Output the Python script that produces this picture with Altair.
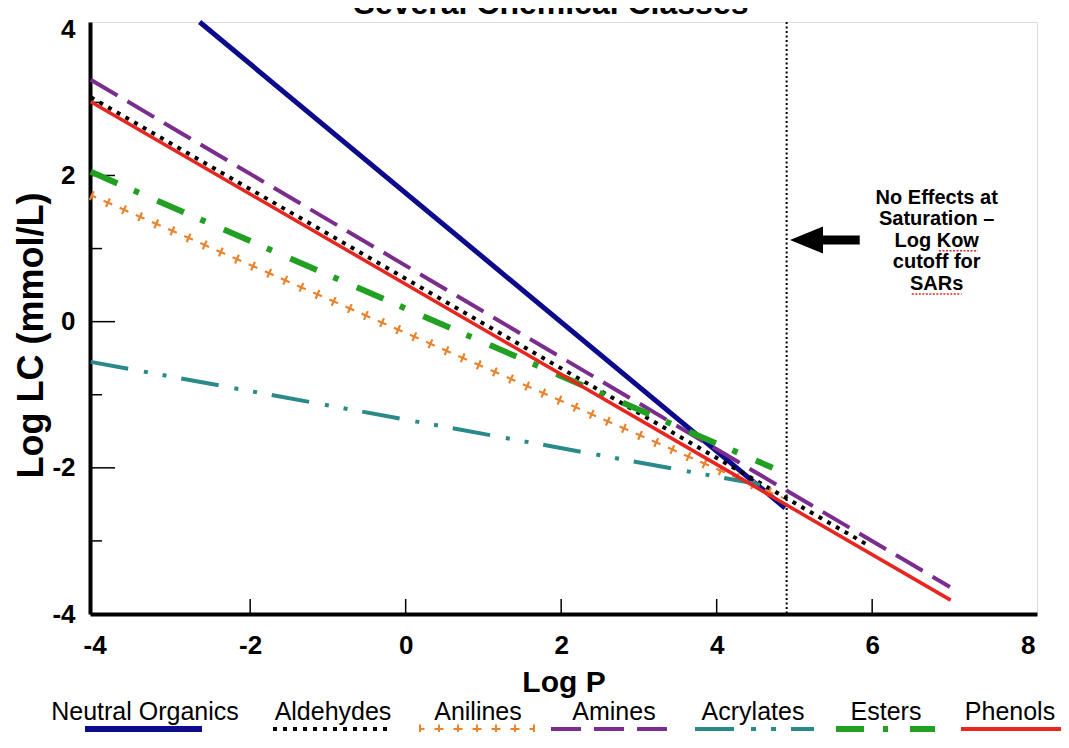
import altair as alt
import pandas as pd

# ---------------- data ----------------
series = ["Neutral Organics", "Aldehydes", "Anilines", "Amines", "Acrylates", "Esters", "Phenols"]
x_start = [-2.65, -4.05, -4.05, -4.05, -4.05, -4.05, -4.05]
y_start = [4.10, 3.07, 1.73, 3.31, -0.55, 2.05, 3.01]
x_end = [4.88, 5.95, 4.85, 7.00, 4.56, 4.72, 7.01]
y_end = [-2.55, -3.06, -2.41, -3.63, -2.23, -2.00, -3.81]
colors = ["#0b0b8c", "#000000", "#E8832E", "#7B2D8E", "#2A8A8A", "#22A022", "#E8251F"]

x_ticks = [-4, -2, 0, 2, 4, 6, 8]
y_ticks = [-4, -2, 0, 2, 4]
x_inner_ticks = [-2, 0, 2, 4, 6]
y_major_ticks = [-2, 0, 2]
y_minor_ticks = [-3, -1, 1, 3]

cutoff_x = [4.9]

note_lines = ["No Effects at", "Saturation \u2013", "Log Kow", "cutoff for", "SARs"]
note_x = [6.83, 6.83, 6.83, 6.83, 6.83]
note_y = [1.69, 1.405, 1.104, 0.817, 0.515]
# spell-check squiggles under "Kow" and "SARs"
squiggle_x1 = [6.86, 6.51]
squiggle_x2 = [7.36, 7.15]
squiggle_y = [0.97, 0.38]

arrow_head_x = [5.155]
arrow_tail_x = [5.84]
arrow_y = [1.117]

title_text = "Several Chemical Classes"

# legend layout (pixel positions relative to plot area)
legend_text_x = [55, 243, 388, 524, 663, 796, 920]
legend_line_x1 = [-5, 183, 329, 461, 605, 746, 871]
legend_line_x2 = [112, 301, 445, 580, 724, 845, 985]

# ---------------- styles ----------------
W, H = 947, 592
FONT = "Liberation Sans, Arial, Helvetica, sans-serif"

line_styles = {
    "Neutral Organics": dict(strokeWidth=5),
    "Aldehydes": dict(strokeWidth=4, strokeDash=[4, 6]),
    "Amines": dict(strokeWidth=4, strokeDash=[31, 11.5]),
    "Acrylates": dict(strokeWidth=4, strokeDash=[38, 16, 4, 15, 4, 15]),
    "Esters": dict(strokeWidth=6, strokeDash=[29, 18, 5.5, 20]),
    "Phenols": dict(strokeWidth=3.5),
}
legend_styles = {
    "Neutral Organics": dict(strokeWidth=6),
    "Aldehydes": dict(strokeWidth=4, strokeDash=[4, 6]),
    "Amines": dict(strokeWidth=4, strokeDash=[30, 13]),
    "Acrylates": dict(strokeWidth=4, strokeDash=[39, 17, 5, 15, 5, 15]),
    "Esters": dict(strokeWidth=6, strokeDash=[28, 19, 5, 22]),
    "Phenols": dict(strokeWidth=4),
}

xscale = alt.Scale(domain=[-4.06, 8.12], nice=False, zero=False)
yscale = alt.Scale(domain=[-4.0, 4.1], nice=False, zero=False)

xaxis = alt.Axis(values=x_ticks, title="Log P", labelExpr="'' + datum.value",
                 ticks=False, grid=False, domain=True, domainColor="black", domainWidth=4,
                 labelPadding=18, labelFontSize=26, labelFontWeight="bold", labelColor="black",
                 labelFont=FONT, labelFlush=False,
                 titleFontSize=30, titleFontWeight="bold", titleColor="black", titleFont=FONT,
                 titleY=77, titleBaseline="alphabetic")
yaxis = alt.Axis(values=y_ticks, title="Log LC (mmol/L)", labelExpr="'' + datum.value",
                 ticks=False, grid=False, domain=True, domainColor="black", domainWidth=4,
                 labelPadding=15, labelFontSize=26, labelFontWeight="bold", labelColor="black",
                 labelFont=FONT, labelFlush=False,
                 titleFontSize=36, titleFontWeight="bold", titleColor="black", titleFont=FONT,
                 titleX=-59, titleY=313, titleBaseline="middle")


def X(field="x"):
    return alt.X(f"{field}:Q", scale=xscale, axis=xaxis)


def Y(field="y"):
    return alt.Y(f"{field}:Q", scale=yscale, axis=yaxis)


dummy = pd.DataFrame({"a": [0]})
layers = []

# inner tick marks
layers.append(alt.Chart(pd.DataFrame({"x": x_inner_ticks})).mark_rule(color="black", strokeWidth=1.5)
              .encode(x=X(), y=alt.value(H), y2=alt.value(H - 15)))
layers.append(alt.Chart(pd.DataFrame({"y": y_major_ticks})).mark_rule(color="black", strokeWidth=1.5)
              .encode(y=Y(), x=alt.value(0), x2=alt.value(25)))
layers.append(alt.Chart(pd.DataFrame({"y": y_minor_ticks})).mark_rule(color="black", strokeWidth=1.5)
              .encode(y=Y(), x=alt.value(0), x2=alt.value(12)))

# cutoff line
layers.append(alt.Chart(pd.DataFrame({"x": cutoff_x})).mark_rule(color="black", strokeWidth=2, strokeDash=[2, 2.5])
              .encode(x=X()))

# series lines
for i, name in enumerate(series):
    df = pd.DataFrame({"x": [x_start[i], x_end[i]], "y": [y_start[i], y_end[i]]})
    if name == "Anilines":
        layers.append(alt.Chart(df).mark_line(color=colors[i], strokeWidth=9.5, strokeDash=[2.2, 15.4], strokeCap="butt")
                      .encode(x=X(), y=Y()))
        layers.append(alt.Chart(df).mark_line(color=colors[i], strokeWidth=2.2, strokeDash=[9.5, 8.1],
                                              strokeDashOffset=3.65, strokeCap="butt")
                      .encode(x=X(), y=Y()))
    else:
        layers.append(alt.Chart(df).mark_line(color=colors[i], strokeCap="butt", **line_styles[name])
                      .encode(x=X(), y=Y()))

# arrow
layers.append(alt.Chart(pd.DataFrame({"x": arrow_head_x, "x2": arrow_tail_x, "y": arrow_y}))
              .mark_rule(color="black", strokeWidth=9)
              .encode(x=X(), x2="x2:Q", y=Y()))
layers.append(alt.Chart(pd.DataFrame({"x": arrow_head_x, "y": arrow_y}))
              .mark_point(shape="M-1,0L1,-0.82L1,0.82Z", filled=True, color="black", size=1089, opacity=1)
              .encode(x=X(), y=Y()))

# annotation text
layers.append(alt.Chart(pd.DataFrame({"x": note_x, "y": note_y, "t": note_lines}))
              .mark_text(font=FONT, fontSize=20, fontWeight="bold", color="black", align="center", baseline="middle")
              .encode(x=X(), y=Y(), text="t:N"))
layers.append(alt.Chart(pd.DataFrame({"x": squiggle_x1, "x2": squiggle_x2, "y": squiggle_y}))
              .mark_rule(color="#D42A2A", strokeWidth=1.5, strokeDash=[2, 1.5])
              .encode(x=X(), x2="x2:Q", y=Y()))

# title (cut at the top as in the reference)
layers.append(alt.Chart(dummy).mark_text(font=FONT, fontSize=32, fontWeight="bold", color="black",
                                         align="center", baseline="alphabetic")
              .encode(x=alt.value(461), y=alt.value(-8), text=alt.value(title_text)))

# custom legend
LEG_TEXT_Y = 690
LEG_LINE_Y = 707
for i, name in enumerate(series):
    layers.append(alt.Chart(dummy).mark_text(font=FONT, fontSize=25, color="black", align="center", baseline="middle")
                  .encode(x=alt.value(legend_text_x[i]), y=alt.value(LEG_TEXT_Y), text=alt.value(name)))
    if name == "Anilines":
        layers.append(alt.Chart(dummy).mark_rule(color=colors[i], strokeWidth=9, strokeDash=[2, 17], strokeCap="butt")
                      .encode(x=alt.value(legend_line_x1[i]), x2=alt.value(legend_line_x2[i]), y=alt.value(LEG_LINE_Y)))
        layers.append(alt.Chart(dummy).mark_rule(color=colors[i], strokeWidth=2, strokeDash=[9, 10],
                                                 strokeDashOffset=3.5, strokeCap="butt")
                      .encode(x=alt.value(legend_line_x1[i]), x2=alt.value(legend_line_x2[i]), y=alt.value(LEG_LINE_Y)))
    else:
        layers.append(alt.Chart(dummy).mark_rule(color=colors[i], strokeCap="butt", **legend_styles[name])
                      .encode(x=alt.value(legend_line_x1[i]), x2=alt.value(legend_line_x2[i]), y=alt.value(LEG_LINE_Y)))

chart = (alt.layer(*layers)
         .properties(width=W, height=H,
                     autosize=alt.AutoSizeParams(type="none"),
                     padding={"left": 82, "top": 14, "right": 24, "bottom": 118},
                     background="white")
         .configure_view(stroke="black", strokeWidth=3)
         .configure(font=FONT))

chart.save("out.html", embed_options={"renderer": "svg", "actions": False})
